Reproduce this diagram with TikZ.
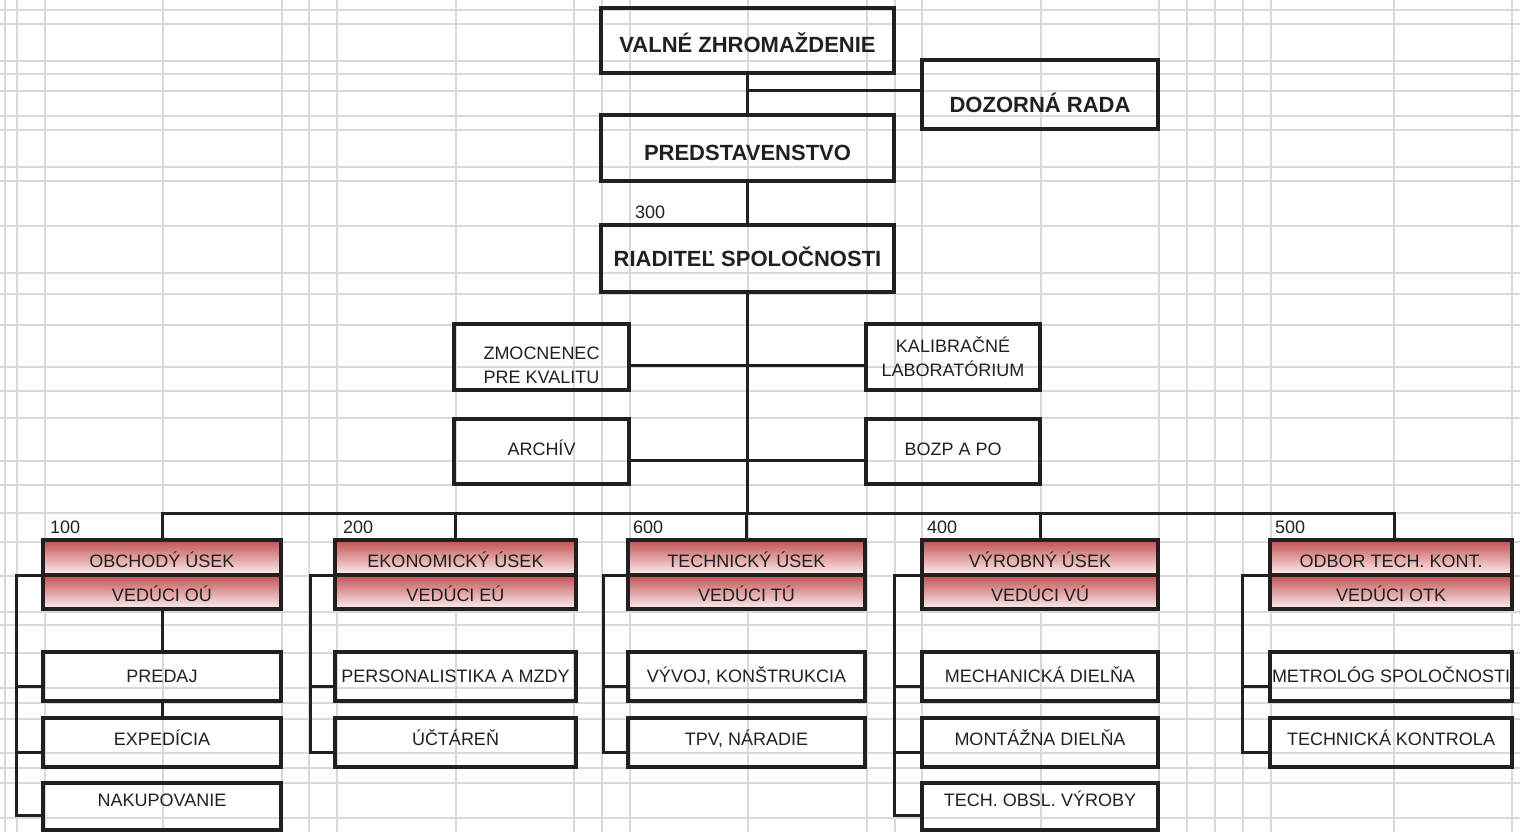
\documentclass[tikz,border=0pt]{standalone}
\usepackage{fontspec}
\setmainfont{Liberation Sans}
\usetikzlibrary{calc}
\definecolor{ink}{RGB}{35,31,32}
\definecolor{gridc}{RGB}{217,217,217}
\definecolor{redtop}{RGB}{193,80,82}
\definecolor{redbot}{RGB}{253,240,240}
\begin{document}
\begin{tikzpicture}[x=1pt,y=-1pt,
  every node/.style={inner sep=0pt, outer sep=0pt, text=ink},
  gridline/.style={draw=gridc, line width=1.3pt},
  conn/.style={draw=ink, line width=3pt},
  bigbox/.style={draw=ink, line width=3.2pt, rectangle, font=\fontsize{22}{24}\selectfont\bfseries, text height=15.75pt, text depth=0pt},
  box/.style={draw=ink, line width=3.2pt, rectangle, font=\fontsize{18}{24}\selectfont, text height=12.9pt, text depth=0pt},
  box2/.style={draw=ink, line width=3.2pt, rectangle, align=center, font=\fontsize{18}{24}\selectfont},
  head/.style={box, top color=redtop, bottom color=redbot, text height=19.9pt},
  num/.style={font=\fontsize{18}{20}\selectfont, anchor=base west},
  liftby/.style={text depth=#1},
]
\useasboundingbox (0,0) rectangle (1520,832);
% spreadsheet grid
\foreach \x in {5,17,45,163,282,309,337,456,574,602,630,748,867,895,922,1041,1159,1187,1215,1243,1271,1394,1512}
  \draw[gridline] (\x,0) -- (\x,832);
\foreach \y in {10,24,61,74,91,116,130,167,181,226,273,294,325,367,391,418,461,485,513,542,576,612,625,653,688,703,719,753,768,783,818}
  \draw[gridline] (0,\y) -- (1520,\y);

% top boxes
\node[bigbox, minimum width=293, minimum height=65, text height=23.75pt] (valne) at (747.5,40.5) {VALNÉ ZHROMAŽDENIE};
\node[bigbox, minimum width=236, minimum height=69, text height=35.75pt] (dozor) at (1040,94.5) {DOZORNÁ RADA};
\node[bigbox, minimum width=293, minimum height=66, text height=25.75pt] (pred) at (747.5,148) {PREDSTAVENSTVO};
\node[bigbox, minimum width=293, minimum height=67] (riad) at (747.5,258.5) {RIADITEĽ SPOLOČNOSTI};
\node[num] (n300) at (635,218) {300};

% staff boxes
\node[box2, minimum width=175, minimum height=66] (zmoc) at (541.5,357) {\rule{0pt}{29pt}ZMOCNENEC\\PRE KVALITU};
\node[box, minimum width=175, minimum height=65, liftby=4pt] (archiv) at (541.5,451.5) {ARCHÍV};
\node[box2, minimum width=174, minimum height=66] (kalib) at (953,357) {KALIBRAČNÉ\\LABORATÓRIUM};
\node[box, minimum width=174, minimum height=65, liftby=4pt] (bozp) at (953,451.5) {BOZP A PO};

% department heads
\node[head, minimum width=238, minimum height=35] (obch) at (162,557.5) {OBCHODÝ ÚSEK};
\node[head, minimum width=238, minimum height=34] (obchV) at (162,592) {VEDÚCI OÚ};
\node[head, minimum width=241, minimum height=35] (ekon) at (455.5,557.5) {EKONOMICKÝ ÚSEK};
\node[head, minimum width=241, minimum height=34] (ekonV) at (455.5,592) {VEDÚCI EÚ};
\node[head, minimum width=237, minimum height=35] (tech) at (746.5,557.5) {TECHNICKÝ ÚSEK};
\node[head, minimum width=237, minimum height=34] (techV) at (746.5,592) {VEDÚCI TÚ};
\node[head, minimum width=236, minimum height=35] (vyrob) at (1040,557.5) {VÝROBNÝ ÚSEK};
\node[head, minimum width=236, minimum height=34] (vyrobV) at (1040,592) {VEDÚCI VÚ};
\node[head, minimum width=242, minimum height=35] (odbor) at (1391,557.5) {ODBOR TECH. KONT.};
\node[head, minimum width=242, minimum height=34] (odborV) at (1391,592) {VEDÚCI OTK};

\node[num] (n100) at ([xshift=7pt,yshift=7pt]obch.north west) {100};
\node[num] (n200) at ([xshift=8pt,yshift=7pt]ekon.north west) {200};
\node[num] (n600) at ([xshift=5pt,yshift=7pt]tech.north west) {600};
\node[num] (n400) at ([xshift=5pt,yshift=7pt]vyrob.north west) {400};
\node[num] (n500) at ([xshift=5pt,yshift=7pt]odbor.north west) {500};

% children
\node[box, minimum width=238, minimum height=49] (predaj) at (162,676.5) {PREDAJ};
\node[box, minimum width=238, minimum height=49, liftby=6pt] (exped) at (162,742.5) {EXPEDÍCIA};
\node[box, minimum width=238, minimum height=47, liftby=12pt] (nakup) at (162,806.5) {NAKUPOVANIE};
\node[box, minimum width=241, minimum height=49] (pers) at (455.5,676.5) {PERSONALISTIKA A MZDY};
\node[box, minimum width=241, minimum height=49, liftby=6pt] (uct) at (455.5,742.5) {ÚČTÁREŇ};
\node[box, minimum width=237, minimum height=49] (vyvoj) at (746.5,676.5) {VÝVOJ, KONŠTRUKCIA};
\node[box, minimum width=237, minimum height=49, liftby=6pt] (tpv) at (746.5,742.5) {TPV, NÁRADIE};
\node[box, minimum width=236, minimum height=49] (mech) at (1040,676.5) {MECHANICKÁ DIELŇA};
\node[box, minimum width=236, minimum height=49, liftby=6pt] (mont) at (1040,742.5) {MONTÁŽNA DIELŇA};
\node[box, minimum width=236, minimum height=47, liftby=12pt] (tobsl) at (1040,806.5) {TECH. OBSL. VÝROBY};
\node[box, minimum width=242, minimum height=49] (metro) at (1391,676.5) {METROLÓG SPOLOČNOSTI};
\node[box, minimum width=242, minimum height=49, liftby=6pt] (tkont) at (1391,742.5) {TECHNICKÁ KONTROLA};

% connectors: top
\draw[conn] (valne.south) -- (pred.north);
\coordinate (j1) at (747.5,91);
\draw[conn] (j1) -- (j1 -| dozor.west);
\draw[conn] (pred.south) -- (riad.north);
\coordinate (bus) at (747.5,513);
\coordinate (busR) at (1394,513);
\draw[conn] (riad.south) -- (bus);
\draw[conn] ([yshift=-8pt]zmoc.east) -- ([yshift=-8pt]zmoc.east -| bus);
\draw[conn] ([yshift=-8.5pt]archiv.east) -- ([yshift=-8.5pt]archiv.east -| bus);
\draw[conn] ([yshift=-8pt]kalib.west) -- ([yshift=-8pt]kalib.west -| bus);
\draw[conn] ([yshift=-8.5pt]bozp.west) -- ([yshift=-8.5pt]bozp.west -| bus);
% bus
\draw[conn] (obch.north) -- (obch.north |- bus) -- (busR) -- (busR |- odbor.north);
\draw[conn] (ekon.north) -- (ekon.north |- bus);
\draw[conn] (tech.north) -- (tech.north |- bus);
\draw[conn] (vyrob.north) -- (vyrob.north |- bus);

% obchod verticals
\draw[conn] (obchV.south) -- (predaj.north);
\draw[conn] (predaj.south) -- (exped.north);

% brackets
\draw[conn] (obchV.north west) -- ++(-27,0) |- ([yshift=-8.5pt]nakup.west);
\draw[conn] ([yshift=-10pt]predaj.west) -- ++(-27,0);
\draw[conn] ([yshift=-10pt]exped.west) -- ++(-27,0);

\draw[conn] (ekonV.north west) -- ++(-25,0) |- ([yshift=-10pt]uct.west);
\draw[conn] ([yshift=-10pt]pers.west) -- ++(-25,0);

\draw[conn] (techV.north west) -- ++(-25,0) |- ([yshift=-10pt]tpv.west);
\draw[conn] ([yshift=-10pt]vyvoj.west) -- ++(-25,0);

\draw[conn] (vyrobV.north west) -- ++(-28,0) |- ([yshift=-8.5pt]tobsl.west);
\draw[conn] ([yshift=-10pt]mech.west) -- ++(-28,0);
\draw[conn] ([yshift=-10pt]mont.west) -- ++(-28,0);

\draw[conn] (odborV.north west) -- ++(-28,0) |- ([yshift=-10pt]tkont.west);
\draw[conn] ([yshift=-10pt]metro.west) -- ++(-28,0);
\end{tikzpicture}
\end{document}
